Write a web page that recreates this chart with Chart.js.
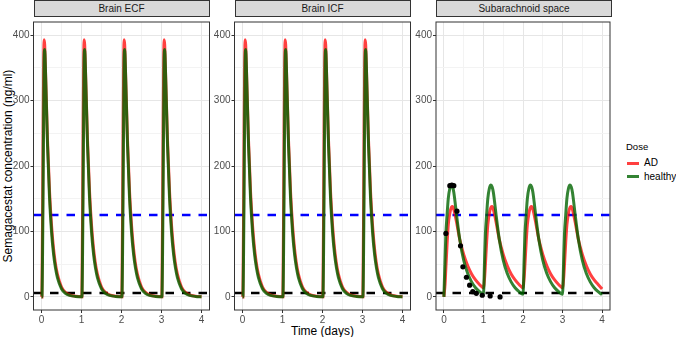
<!DOCTYPE html>
<html>
<head>
<meta charset="utf-8">
<script src="https://cdn.jsdelivr.net/npm/chart.js@4.4.1/dist/chart.umd.min.js"></script>
<style>
  body { margin: 0; width: 676px; height: 337px; background: #fff; position: relative; overflow: hidden;
         font-family: "Liberation Sans", Arial, sans-serif; }
  canvas { position: absolute; }
  .strip { position: absolute; top: 0; height: 17px; width: 176px; background: #d9d9d9; border: 1px solid #333;
           box-sizing: border-box; font-size: 10px; color: #1a1a1a; text-align: center; line-height: 15px; }
  .txt { position: absolute; white-space: nowrap; color: #000; }
  .key { position: absolute; width: 12px; height: 3px; }
</style>
</head>
<body>
<div class="txt" style="left:-142px; top:159px; width:300px; height:14px; line-height:14px; font-size:12px; text-align:center; transform:rotate(-90deg);">Semagacestat concentration (ng/ml)</div>
<div class="txt" style="left:222.5px; top:324px; width:200px; line-height:14px; font-size:12px; text-align:center;">Time (days)</div>
<div class="txt" style="left:626px; top:141px; font-size:9.5px; line-height:12px;">Dose</div>
<div class="key" style="left:627px; top:161.5px; background:rgba(255,0,0,0.75);"></div>
<div class="txt" style="left:644px; top:157px; font-size:10px; line-height:12px;">AD</div>
<div class="key" style="left:627px; top:175px; background:rgba(0,100,0,0.8);"></div>
<div class="txt" style="left:644px; top:170.5px; font-size:10px; line-height:12px;">healthy</div>

<script>
// axes
const xTicks = [0, 1, 2, 3, 4];
const xMinor = [0.5, 1.5, 2.5, 3.5];
const yTicks = [0, 100, 200, 300, 400];
const yMinor = [50, 150, 250, 350];
const xLimits = [-0.2, 4.2];
const yLimits = [-20, 420];

// dashed reference lines (ng/ml)
const thresholds = [125, 6];
const thresholdColors = ['#0000ff', '#000000'];

// brain compartments (ECF and ICF read the same)
const brainTime = [
  0, 0.01, 0.04, 0.065, 0.08, 0.1, 0.15, 0.2, 0.25, 0.3, 0.35, 0.4, 0.5, 0.6, 0.7, 0.85,
  1, 1.01, 1.04, 1.065, 1.08, 1.1, 1.15, 1.2, 1.25, 1.3, 1.35, 1.4, 1.5, 1.6, 1.7, 1.85,
  2, 2.01, 2.04, 2.065, 2.08, 2.1, 2.15, 2.2, 2.25, 2.3, 2.35, 2.4, 2.5, 2.6, 2.7, 2.85,
  3, 3.01, 3.04, 3.065, 3.08, 3.1, 3.15, 3.2, 3.25, 3.3, 3.35, 3.4, 3.5, 3.6, 3.7, 3.85,
  4
];
const ecfAD = [
  0, 0, 250, 393, 385, 345, 240, 162, 110, 74, 50, 34, 15, 7, 3, 1,
  0.3, 0.3, 250, 393, 385, 345, 240, 162, 110, 74, 50, 34, 15, 7, 3, 1,
  0.3, 0.3, 250, 393, 385, 345, 240, 162, 110, 74, 50, 34, 15, 7, 3, 1,
  0.3, 0.3, 250, 393, 385, 345, 240, 162, 110, 74, 50, 34, 15, 7, 3, 1,
  0.3
];
const ecfHealthy = [
  0, 0, 160, 360, 378, 345, 232, 152, 100, 66, 44, 29, 12.5, 5.5, 2.4, 0.7,
  0.2, 0.2, 160, 360, 378, 345, 232, 152, 100, 66, 44, 29, 12.5, 5.5, 2.4, 0.7,
  0.2, 0.2, 160, 360, 378, 345, 232, 152, 100, 66, 44, 29, 12.5, 5.5, 2.4, 0.7,
  0.2, 0.2, 160, 360, 378, 345, 232, 152, 100, 66, 44, 29, 12.5, 5.5, 2.4, 0.7,
  0.2
];
const icfAD = [
  0, 0, 250, 393, 385, 345, 240, 162, 110, 74, 50, 34, 15, 7, 3, 1,
  0.3, 0.3, 250, 393, 385, 345, 240, 162, 110, 74, 50, 34, 15, 7, 3, 1,
  0.3, 0.3, 250, 393, 385, 345, 240, 162, 110, 74, 50, 34, 15, 7, 3, 1,
  0.3, 0.3, 250, 393, 385, 345, 240, 162, 110, 74, 50, 34, 15, 7, 3, 1,
  0.3
];
const icfHealthy = [
  0, 0, 160, 360, 378, 345, 232, 152, 100, 66, 44, 29, 12.5, 5.5, 2.4, 0.7,
  0.2, 0.2, 160, 360, 378, 345, 232, 152, 100, 66, 44, 29, 12.5, 5.5, 2.4, 0.7,
  0.2, 0.2, 160, 360, 378, 345, 232, 152, 100, 66, 44, 29, 12.5, 5.5, 2.4, 0.7,
  0.2, 0.2, 160, 360, 378, 345, 232, 152, 100, 66, 44, 29, 12.5, 5.5, 2.4, 0.7,
  0.2
];

// subarachnoid space
const sasTime = [
  0, 0.03, 0.05, 0.08, 0.11, 0.15, 0.19, 0.22, 0.25, 0.28, 0.32, 0.4, 0.5, 0.6, 0.7, 0.8, 0.9,
  1, 1.03, 1.05, 1.08, 1.11, 1.15, 1.19, 1.22, 1.25, 1.28, 1.32, 1.4, 1.5, 1.6, 1.7, 1.8, 1.9,
  2, 2.03, 2.05, 2.08, 2.11, 2.15, 2.19, 2.22, 2.25, 2.28, 2.32, 2.4, 2.5, 2.6, 2.7, 2.8, 2.9,
  3, 3.03, 3.05, 3.08, 3.11, 3.15, 3.19, 3.22, 3.25, 3.28, 3.32, 3.4, 3.5, 3.6, 3.7, 3.8, 3.9,
  4
];
const sasAD = [
  0, 20, 45, 80, 110, 128, 137, 138, 134, 126, 114, 88, 65, 48, 35, 26, 19,
  14, 30, 50, 83, 110, 128, 137, 138, 134, 126, 114, 88, 65, 48, 35, 26, 19,
  14, 30, 50, 83, 110, 128, 137, 138, 134, 126, 114, 88, 65, 48, 35, 26, 19,
  14, 30, 50, 83, 110, 128, 137, 138, 134, 126, 114, 88, 65, 48, 35, 26, 19,
  12
];
const sasHealthy = [
  0, 60, 97, 125, 150, 166, 171, 168, 160, 146, 125, 88, 56, 36, 23, 14, 8,
  4, 60, 97, 125, 150, 166, 171, 168, 160, 146, 125, 88, 56, 36, 23, 14, 8,
  4, 60, 97, 125, 150, 166, 171, 168, 160, 146, 125, 88, 56, 36, 23, 14, 8,
  4, 60, 97, 125, 150, 166, 171, 168, 160, 146, 125, 88, 56, 36, 23, 14, 8,
  3.5
];
// observed points
const obsTime = [0.05, 0.15, 0.2, 0.25, 0.33, 0.42, 0.48, 0.57, 0.65, 0.73, 0.82, 0.97, 1.17, 1.42];
const obsConc = [97, 170, 171, 170, 131, 78, 46, 30, 18, 8, 5.5, 2.5, 1.5, 0];

const adColor = 'rgba(255,0,0,0.75)';
const healthyColor = 'rgba(0,100,0,0.8)';

const panels = [
  { title: 'Brain ECF', left: 33.5, time: brainTime, ad: ecfAD, healthy: ecfHealthy },
  { title: 'Brain ICF', left: 234.5, time: brainTime, ad: icfAD, healthy: icfHealthy },
  { title: 'Subarachnoid space', left: 436, time: sasTime, ad: sasAD, healthy: sasHealthy, obs: true }
];

const PANEL_W = 176, PANEL_TOP = 16, PANEL_H = 294, X_AXIS_H = 18;

function pairs(xs, ys) { return xs.map((x, i) => ({ x: x, y: ys[i] })); }

const panelBorder = {
  id: 'panelBorder',
  afterDraw(chart) {
    const { ctx, chartArea: a } = chart;
    ctx.save();
    ctx.strokeStyle = '#333';
    ctx.lineWidth = 1;
    ctx.strokeRect(a.left, a.top, a.right - a.left, a.bottom - a.top);
    ctx.restore();
  }
};

function axis(limits, major, minor, isY, fitSize) {
  const all = major.concat(minor).sort((a, b) => a - b);
  return {
    type: 'linear',
    min: limits[0],
    max: limits[1],
    afterBuildTicks: s => { s.ticks = all.map(v => ({ value: v })); },
    afterFit: s => { if (isY) s.width = fitSize; else s.height = fitSize; },
    border: { display: false },
    grid: {
      color: c => major.includes(c.tick.value) ? '#e6e6e6' : '#f3f3f3',
      lineWidth: 1,
      tickLength: 3,
      tickColor: c => major.includes(c.tick.value) ? '#333' : 'rgba(0,0,0,0)'
    },
    ticks: {
      autoSkip: false,
      maxRotation: 0,
      padding: 1,
      color: '#4d4d4d',
      font: { family: '"Liberation Sans", Arial, sans-serif', size: 10 },
      callback: v => major.includes(v) ? String(v) : ''
    }
  };
}

panels.forEach(p => {
  const canvasLeft = Math.floor(p.left - 33.5);
  const yW = p.left - canvasLeft;
  const width = Math.ceil(yW + PANEL_W + 2);

  const strip = document.createElement('div');
  strip.className = 'strip';
  strip.style.left = p.left + 'px';
  strip.textContent = p.title;
  document.body.appendChild(strip);

  const cv = document.createElement('canvas');
  cv.width = width;
  cv.height = 1 + PANEL_H + X_AXIS_H;
  cv.style.left = canvasLeft + 'px';
  cv.style.top = (PANEL_TOP - 1) + 'px';
  document.body.appendChild(cv);

  const datasets = [];
  if (p.obs) {
    datasets.push({
      data: pairs(obsTime, obsConc), showLine: false, order: 0,
      pointRadius: 2.6, pointBackgroundColor: '#000', pointBorderColor: '#000', pointBorderWidth: 0
    });
  }
  datasets.push({
    label: 'healthy', data: pairs(p.time, p.healthy), order: 1,
    borderColor: healthyColor, borderWidth: 3, pointRadius: 0, cubicInterpolationMode: 'monotone'
  });
  datasets.push({
    label: 'AD', data: pairs(p.time, p.ad), order: 2,
    borderColor: adColor, borderWidth: 3, pointRadius: 0, cubicInterpolationMode: 'monotone'
  });
  thresholds.forEach((v, i) => {
    datasets.push({
      data: [{ x: xLimits[0], y: v }, { x: xLimits[1], y: v }], order: 3 + i,
      borderColor: thresholdColors[i], borderWidth: 2.5, borderDash: [8.5, 8], pointRadius: 0
    });
  });

  new Chart(cv, {
    type: 'line',
    data: { datasets: datasets },
    options: {
      responsive: false,
      animation: false,
      devicePixelRatio: 1,
      layout: { padding: { left: 0, top: 1, right: width - yW - PANEL_W, bottom: 0 } },
      scales: {
        x: axis(xLimits, xTicks, xMinor, false, X_AXIS_H),
        y: axis(yLimits, yTicks, yMinor, true, yW)
      },
      plugins: { legend: { display: false }, tooltip: { enabled: false } }
    },
    plugins: [panelBorder]
  });
});
</script>
</body>
</html>
